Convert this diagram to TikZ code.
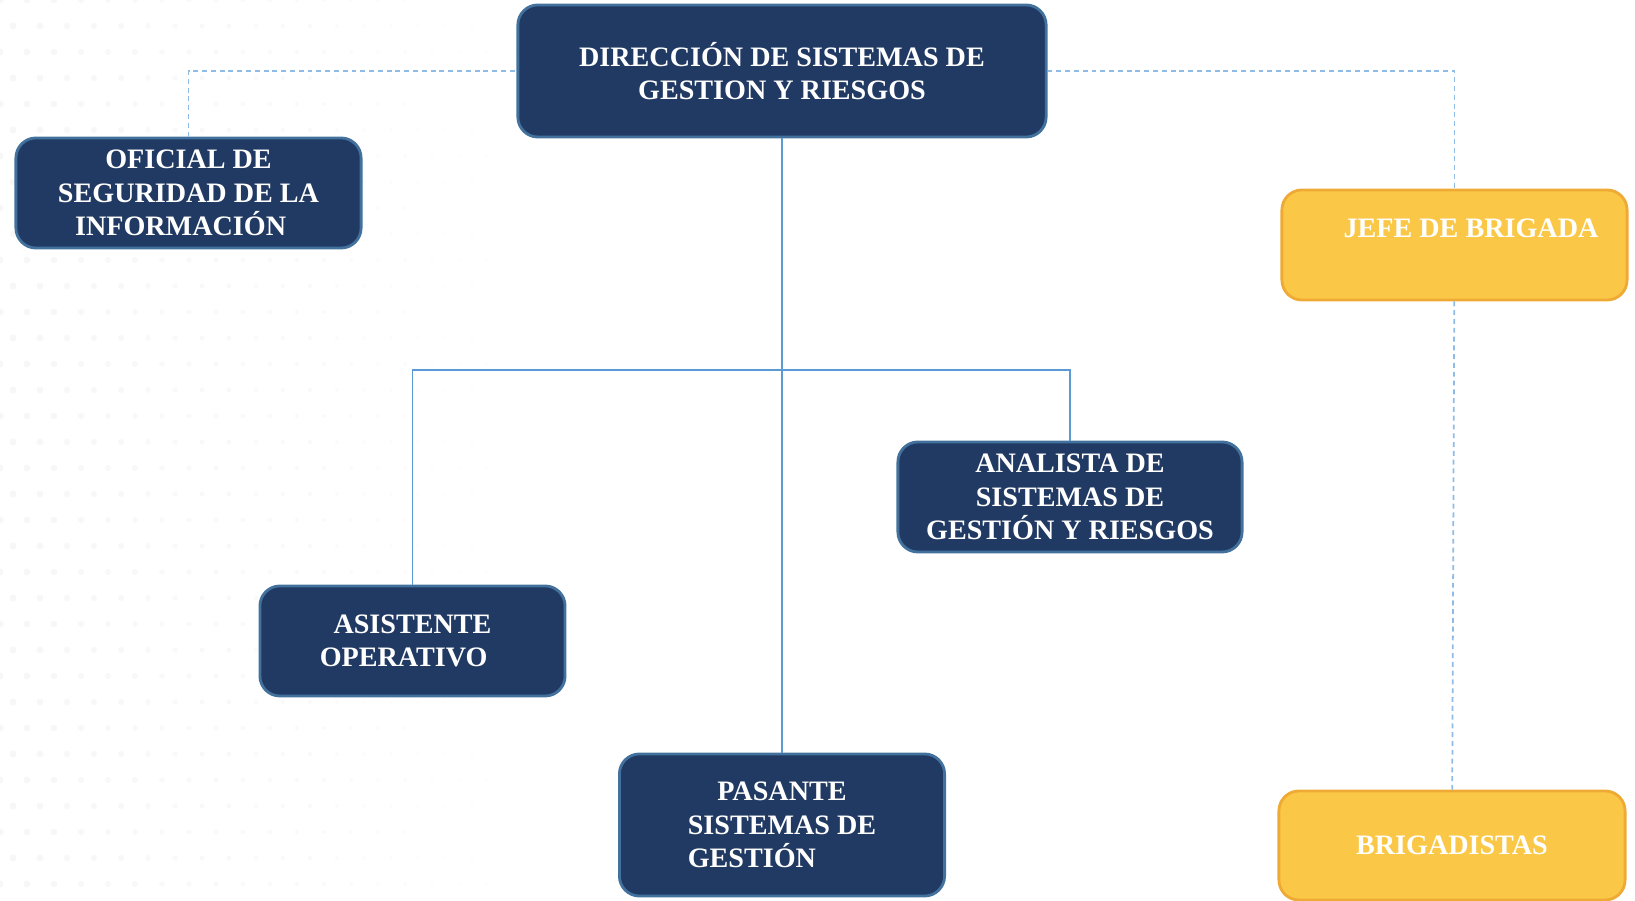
\documentclass[tikz,border=0pt]{standalone}
\usepackage{fontspec}
\setmainfont{Liberation Serif}
\usetikzlibrary{positioning}
\definecolor{navy}{HTML}{213A63}
\definecolor{navyline}{HTML}{41719C}
\definecolor{gold}{HTML}{FAC846}
\definecolor{goldline}{HTML}{EFA935}
\definecolor{linkblue}{HTML}{5B9BD5}
\definecolor{dashblue}{HTML}{8FBCE6}

\begin{document}
\begin{tikzpicture}[
    x=0.01cm, y=-0.01cm,
    box/.style={rectangle, rounded corners=0.2cm, draw=navyline, line width=0.8pt,
        fill=navy, text=white, align=center,
        font=\bfseries\fontsize{8}{9.6}\selectfont},
    yellowbox/.style={box, draw=goldline, fill=gold},
    link/.style={draw=linkblue, line width=0.4pt},
    dashlink/.style={draw=dashblue, line width=0.5pt, dash pattern=on 1.4pt off 1.1pt}
]
\useasboundingbox (0,0) rectangle (1635,901);

% Faint dotted background, fading to the right
\foreach \i in {0,...,26}{
    \foreach \j in {0,...,34}{
        \pgfmathsetmacro{\dx}{\i*27+13*mod(\j,2)}
        \pgfmathsetmacro{\fade}{max(0,1-\dx/720)}
        \pgfmathsetmacro{\shade}{3.2*\fade}
        \fill[black!\shade] (\dx,\j*26) circle[radius=3*\fade+0.5];
    }
}

% Nodes placed manually at their positions
\node[box, minimum width=5.28cm, minimum height=1.32cm] (DIR) at (782,71)
    {DIRECCIÓN DE SISTEMAS DE\\GESTION Y RIESGOS};
\node[box, minimum width=3.45cm, minimum height=1.1cm] (OFI) at (188.5,193)
    {OFICIAL DE\\SEGURIDAD DE LA\\INFORMACIÓN\hspace*{4.5pt}};
\node[yellowbox, minimum width=3.45cm, minimum height=1.1cm] (JEFE) at (1454.5,245)
    {\hspace*{9.4pt}JEFE DE BRIGADA\\\mbox{}};
\node[yellowbox, minimum width=3.46cm, minimum height=1.09cm] (BRIG) at (1452,845.5)
    {BRIGADISTAS};
\node[box, minimum width=3.44cm, minimum height=1.1cm] (ANA) at (1070,497)
    {ANALISTA DE\\SISTEMAS DE\\GESTIÓN Y RIESGOS};
\node[box, minimum width=3.05cm, minimum height=1.1cm] (ASIS) at (412.5,641)
    {ASISTENTE\\OPERATIVO\hspace*{5pt}};
\node[box, minimum width=3.25cm, minimum height=1.42cm] (PAS) at (782,825)
    {PASANTE\\SISTEMAS DE\\\rlap{GESTIÓN}\phantom{SISTEMAS DE}};
\coordinate (BAR) at (782,370);

% Solid connectors
\draw[link] (DIR) -- (PAS);
\draw[link] (ASIS) |- (BAR) -| (ANA);

% Dashed connectors
\draw[dashlink] (OFI) |- (DIR);
\draw[dashlink] (DIR) -| (JEFE);
\draw[dashlink] (JEFE) -- (BRIG);
\end{tikzpicture}
\end{document}
